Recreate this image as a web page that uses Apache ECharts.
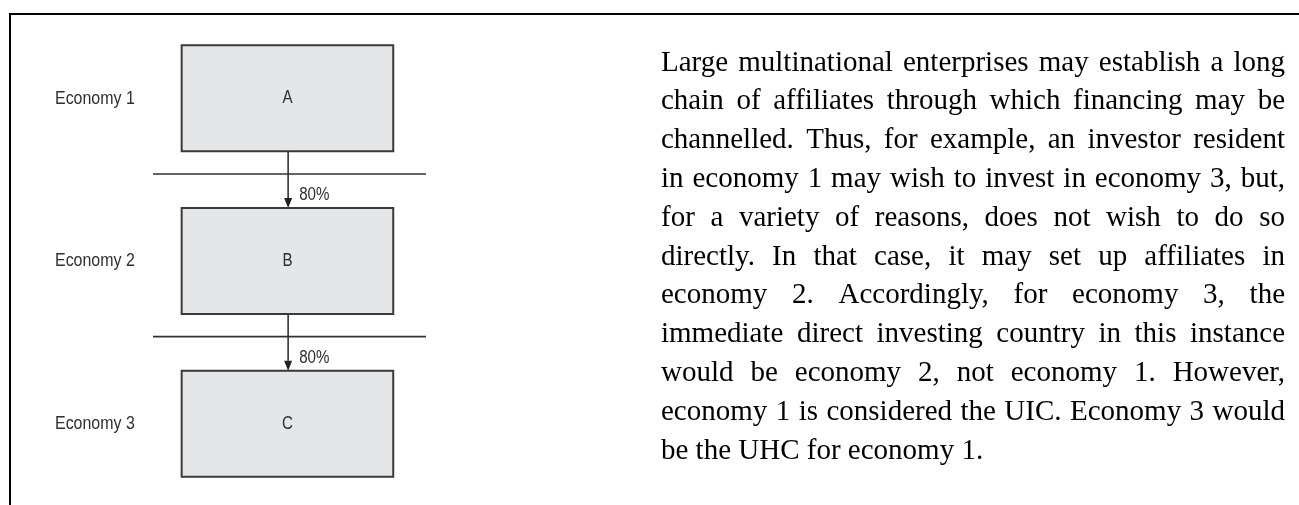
<!DOCTYPE html>
<html lang="en">

<head>
  <meta charset="UTF-8">
  <title>Chain of affiliates</title>
  <script src="https://cdn.jsdelivr.net/npm/echarts@6/dist/echarts.min.js"></script>
  <style>
    * {
      margin: 0;
      padding: 0;
    }

    #main {
      width: 1299px;
      height: 505px;
      background: #fff;
    }
  </style>
</head>

<body>
  <div id="main"></div>
</body>

<script>
  // 数据
  var economies = ['Economy 1', 'Economy 2', 'Economy 3'];
  var firms = ['A', 'B', 'C'];
  var shares = ['80%', '80%'];  // A->B, B->C
  var textLines = [
    'Large multinational enterprises may establish a long',
    'chain of affiliates through which financing may be',
    'channelled. Thus, for example, an investor resident',
    'in economy 1 may wish to invest in economy 3, but,',
    'for a variety of reasons, does not wish to do so',
    'directly. In that case, it may set up affiliates in',
    'economy 2. Accordingly, for economy 3, the',
    'immediate direct investing country in this instance',
    'would be economy 2, not economy 1. However,',
    'economy 1 is considered the UIC. Economy 3 would',
    'be the UHC for economy 1.'
  ];

  // 窄体字 (用 scaleX 压缩)
  var sans = '"Liberation Sans", Arial, sans-serif';
  var narrowScale = 0.84;
  var serifFont = '29px "Liberation Serif", "Times New Roman", serif';

  // 图形比例 (x 轴 0..1, 类目带宽比例)
  var boxLeft = 0.105, boxRight = 0.88, boxHalf = 0.326;
  var arrowX = 0.495, sepOffset = 0.465, labelOffset = 0.594;
  var econLabelX = -0.359;

  var myChart = echarts.init(document.getElementById('main'));

  function narrowText(x, y, text, size, align) {
    return {
      type: 'text',
      x: x,
      y: y,
      scaleX: narrowScale,
      style: {
        text: text,
        fill: '#2f2f2f',
        font: size + 'px ' + sans,
        align: align,
        verticalAlign: 'middle'
      }
    };
  }

  function renderBox(params, api) {
    var idx = api.value(1);
    var band = api.size([0, 1])[1];
    var c = api.coord([0, idx]);
    var x0 = api.coord([boxLeft, idx])[0];
    var x1 = api.coord([boxRight, idx])[0];
    var lx = api.coord([econLabelX, idx])[0];
    var h = band * boxHalf;
    return {
      type: 'group',
      children: [{
        type: 'rect',
        shape: { x: x0, y: c[1] - h, width: x1 - x0, height: 2 * h },
        style: { fill: '#e5e6e8', stroke: '#3a3a3a', lineWidth: 2 }
      },
      narrowText((x0 + x1) / 2, c[1], firms[params.dataIndex], 18, 'center'),
      narrowText(lx, c[1], economies[idx], 19, 'left')]
    };
  }

  function renderLink(params, api) {
    var idx = api.value(1);
    var band = api.size([0, 1])[1];
    var h = band * boxHalf;
    var c0 = api.coord([arrowX, idx]);
    var c1 = api.coord([arrowX, idx + 1]);
    var sepY = c0[1] + band * sepOffset;
    var sx0 = api.coord([0, idx])[0];
    var sx1 = api.coord([1, idx])[0];
    var tipY = c1[1] - h;
    var head = 10, headW = 4;
    return {
      type: 'group',
      children: [{
        type: 'line',
        shape: { x1: sx0, y1: sepY, x2: sx1, y2: sepY },
        style: { stroke: '#333', lineWidth: 1.6 }
      }, {
        type: 'line',
        shape: { x1: c0[0], y1: c0[1] + h, x2: c0[0], y2: tipY - head },
        style: { stroke: '#333', lineWidth: 1.6 }
      }, {
        type: 'polygon',
        shape: { points: [[c0[0] - headW, tipY - head], [c0[0] + headW, tipY - head], [c0[0], tipY]] },
        style: { fill: '#222' }
      },
      narrowText(c0[0] + 11, c0[1] + band * labelOffset, shares[params.dataIndex], 18, 'left')]
    };
  }

  // 两端对齐的段落
  function buildParagraph() {
    var ctx = document.createElement('canvas').getContext('2d');
    ctx.font = serifFont;
    var left = 661, right = 1285, top = 63, lineGap = 38.8;
    var items = [];
    textLines.forEach(function (line, i) {
      var words = line.split(' ');
      var widths = words.map(function (w) { return ctx.measureText(w).width; });
      var sum = widths.reduce(function (a, b) { return a + b; }, 0);
      var gap = ctx.measureText(' ').width;
      if (i < textLines.length - 1 && words.length > 1) {
        gap = (right - left - sum) / (words.length - 1);
      }
      var x = left;
      words.forEach(function (w, k) {
        items.push({
          type: 'text',
          x: x,
          y: top + i * lineGap,
          silent: true,
          style: { text: w, font: serifFont, fill: '#000', align: 'left', verticalAlign: 'middle' }
        });
        x += widths[k] + gap;
      });
    });
    return items;
  }

  var graphics = [{
    type: 'rect',
    silent: true,
    shape: { x: 10, y: 14, width: 1400, height: 600 },
    style: { fill: 'none', stroke: '#000', lineWidth: 2 }
  }].concat(buildParagraph());

  myChart.setOption({
    animation: false,
    grid: {
      left: 153,
      width: 273,
      top: 17,
      height: 488,
      outerBoundsMode: 'none'
    },
    xAxis: {
      type: 'value',
      min: 0,
      max: 1,
      show: false
    },
    yAxis: {
      type: 'category',
      data: economies,
      inverse: true,
      show: false
    },
    series: [{
      type: 'custom',
      renderItem: renderBox,
      encode: { x: 0, y: 1 },
      data: firms.map(function (f, i) { return { name: f, value: [0.5, i] }; })
    }, {
      type: 'custom',
      renderItem: renderLink,
      encode: { x: 0, y: 1 },
      data: shares.map(function (s, i) { return { name: s, value: [arrowX, i] }; })
    }],
    graphic: graphics
  });
</script>

</html>
